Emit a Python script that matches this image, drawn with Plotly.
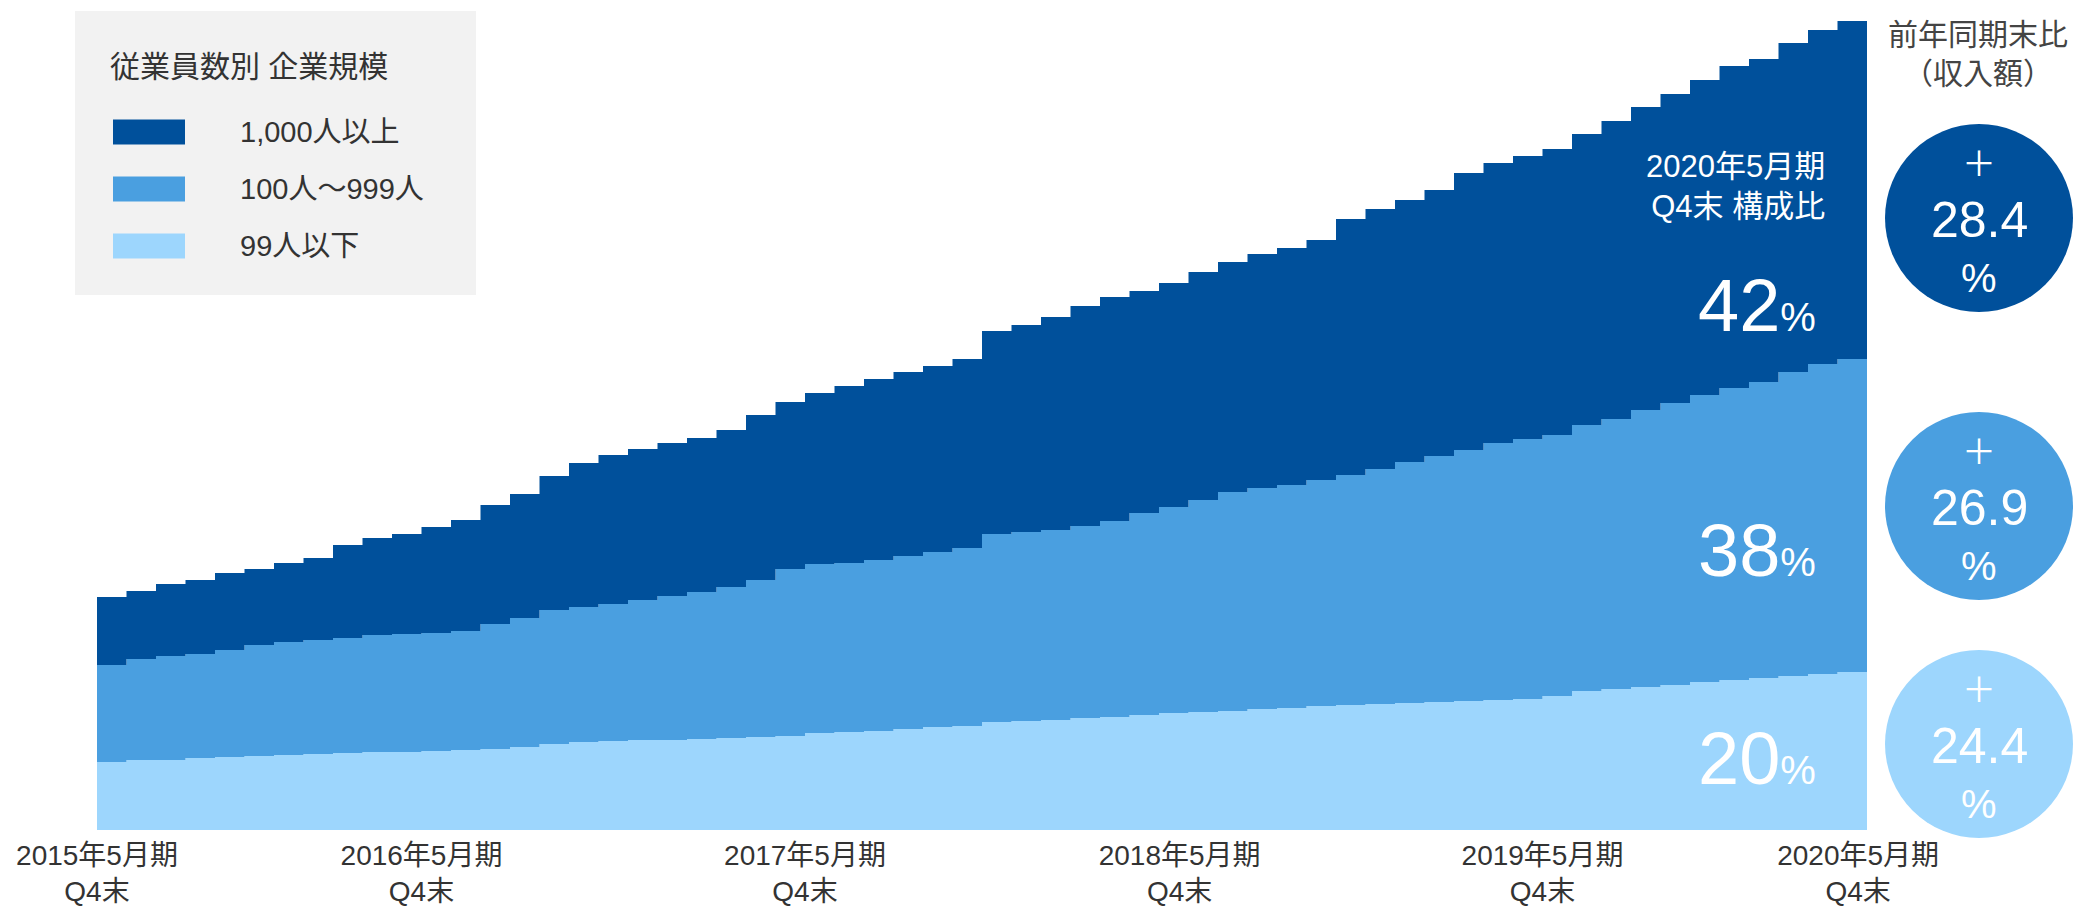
import plotly.graph_objects as go

# ---------------- data (relative revenue) ----------------
month_index = list(range(61))  # 2015年5月期Q4末 ... 2020年5月期Q4末 (monthly)

small_99 = [68, 70, 70, 72, 73, 74, 75, 76, 77, 78, 78, 79, 80, 81, 83, 86, 88, 89, 90, 90,
            91, 92, 93, 94, 97, 98, 99, 101, 103, 104, 108, 109, 110, 112, 113, 115, 117, 118, 119, 121,
            122, 124, 125, 126, 127, 128, 129, 130, 131, 134, 139, 141, 143, 145, 148, 150, 152, 154, 156, 158,
            160]
mid_100_999 = [97, 101, 104, 104, 107, 111, 113, 114, 115, 117, 118, 118, 119, 125, 129, 134, 135, 137, 140, 144,
               147, 151, 157, 167, 169, 169, 171, 173, 175, 178, 188, 189, 190, 192, 196, 202, 206, 212, 219, 221,
               223, 226, 230, 235, 241, 246, 251, 257, 260, 261, 266, 270, 277, 282, 287, 292, 296, 304, 310, 313,
               313]
large_1000 = [68, 68, 72, 74, 77, 76, 79, 82, 93, 97, 100, 106, 111, 119, 124, 134, 144, 149, 151, 153,
              154, 157, 165, 167, 171, 177, 181, 184, 186, 189, 203, 207, 213, 220, 224, 222, 224, 228, 230, 234,
              237, 240, 256, 260, 262, 266, 277, 280, 283, 286, 291, 298, 303, 309, 315, 322, 323, 329, 334, 338,
              338]

tick_positions = [0, 11, 24, 36.7, 49, 59.7]
tick_labels = ["2015年5月期<br>Q4末", "2016年5月期<br>Q4末", "2017年5月期<br>Q4末",
               "2018年5月期<br>Q4末", "2019年5月期<br>Q4末", "2020年5月期<br>Q4末"]

series_names = ["99人以下", "100人〜999人", "1,000人以上"]
share_labels = ["20", "38", "42"]
yoy_labels = ["24.4", "26.9", "28.4"]
legend_title = "従業員数別 企業規模"

colors = ["#9DD6FD", "#4A9FE0", "#00509B"]

# ---------------- layout helpers (pixel -> paper) ----------------
W, H = 2075, 909
L, R, B, T = 97, 1867, 830, 0
PW, PH = R - L, B - T


def px(x):
    return (x - L) / PW


def py(y):
    return (B - y) / PH


FONT = "Arial, 'Liberation Sans', 'Noto Sans CJK JP', sans-serif"

fig = go.Figure()
for name, vals, col in zip(series_names, [small_99, mid_100_999, large_1000], colors):
    fig.add_trace(go.Scatter(
        x=month_index, y=vals, name=name, stackgroup="one",
        mode="lines", line=dict(width=0, shape="hv", color=col),
        fillcolor=col, hoverinfo="x+y+name", showlegend=False,
    ))

shapes = []
annotations = []

# legend box
shapes.append(dict(type="rect", xref="paper", yref="paper",
                   x0=px(75), x1=px(476), y0=py(295), y1=py(11),
                   fillcolor="#F2F2F2", line=dict(width=0), layer="above"))
annotations.append(dict(xref="paper", yref="paper", x=px(108), y=py(66), xanchor="left", yanchor="middle",
                        text=legend_title, showarrow=False, font=dict(family=FONT, size=30, color="#333333")))
for idx, yc in [(2, 132), (1, 189), (0, 246)]:
    shapes.append(dict(type="rect", xref="paper", yref="paper",
                       x0=px(113), x1=px(185), y0=py(yc + 12.5), y1=py(yc - 12.5),
                       fillcolor=colors[idx], line=dict(width=0), layer="above"))
    annotations.append(dict(xref="paper", yref="paper", x=px(238), y=py(yc), xanchor="left", yanchor="middle",
                            text=series_names[idx], showarrow=False,
                            font=dict(family=FONT, size=29, color="#333333")))

# in-chart composition labels
annotations.append(dict(xref="paper", yref="paper", x=px(1827), y=py(187), xanchor="right", yanchor="middle",
                        text="2020年5月期<br>Q4末 構成比", align="right", showarrow=False,
                        font=dict(family=FONT, size=31, color="white")))
for idx, yc in zip([2, 1, 0], [305, 550, 758]):
    annotations.append(dict(xref="paper", yref="paper", x=px(1818), y=py(yc), xanchor="right", yanchor="middle",
                            text=share_labels[idx] + "<span style='font-size:40px'>%</span>",
                            showarrow=False, font=dict(family=FONT, size=74, color="white")))

# right header
annotations.append(dict(xref="paper", yref="paper", x=px(1978), y=py(54), xanchor="center", yanchor="middle",
                        text="前年同期末比<br>（収入額）", showarrow=False,
                        font=dict(family=FONT, size=30, color="#444444")))

# circles
for idx, cy in zip([2, 1, 0], [218, 506, 744]):
    cx, r = 1979, 94
    shapes.append(dict(type="circle", xref="paper", yref="paper",
                       x0=px(cx - r), x1=px(cx + r), y0=py(cy + r), y1=py(cy - r),
                       fillcolor=colors[idx], line=dict(width=0), layer="above"))
    annotations.append(dict(xref="paper", yref="paper", x=px(cx), y=py(cy - 54), xanchor="center",
                            yanchor="middle", text="＋", showarrow=False,
                            font=dict(family=FONT, size=34, color="white")))
    annotations.append(dict(xref="paper", yref="paper", x=px(cx), y=py(cy + 2), xanchor="center",
                            yanchor="middle", text=yoy_labels[idx], showarrow=False,
                            font=dict(family=FONT, size=50, color="white")))
    annotations.append(dict(xref="paper", yref="paper", x=px(cx), y=py(cy + 60), xanchor="center",
                            yanchor="middle", text="%", showarrow=False,
                            font=dict(family=FONT, size=40, color="white")))

fig.update_layout(
    width=W, height=H,
    margin=dict(l=L, r=W - R, t=T, b=H - B, autoexpand=False),
    paper_bgcolor="white", plot_bgcolor="white",
    shapes=shapes, annotations=annotations,
    xaxis=dict(range=[0, 60], tickvals=tick_positions, ticktext=tick_labels,
               showgrid=False, zeroline=False, showline=False, ticks="",
               ticklabelstandoff=6, automargin=False,
               tickfont=dict(family=FONT, size=28, color="#333333"), fixedrange=True),
    yaxis=dict(range=[0, 830], visible=False, fixedrange=True, automargin=False),
    font=dict(family=FONT),
)

fig.write_html("out.html", config={"displayModeBar": False},
               post_script="document.body.style.margin='0';document.body.style.overflow='hidden';")
